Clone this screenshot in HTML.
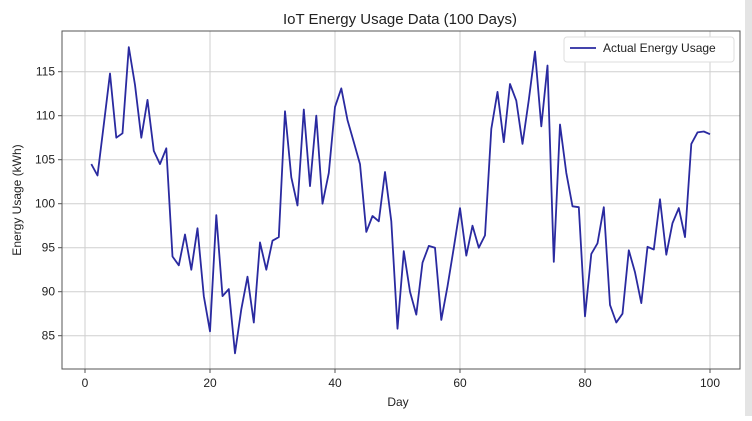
<!DOCTYPE html>
<html><head><meta charset="utf-8"><style>
body{margin:0;background:#fff;width:752px;height:416px;overflow:hidden;font-family:"Liberation Sans","DejaVu Sans",sans-serif;}
</style></head><body>
<svg id="chart" width="752" height="416" xmlns="http://www.w3.org/2000/svg">
<rect x="0" y="0" width="752" height="416" fill="#fff"/>
<rect x="745" y="0" width="7" height="416" fill="#e4e4e4"/>
<text x="400" y="24" text-anchor="middle" font-size="15" fill="#222">IoT Energy Usage Data (100 Days)</text>
<text transform="translate(21,200) rotate(-90)" text-anchor="middle" font-size="12" fill="#222">Energy Usage (kWh)</text>
<text x="398" y="406" text-anchor="middle" font-size="12" fill="#222">Day</text>
<g id="grid"></g><g id="ticks"></g>
<path id="line" fill="none" stroke="#2a2aa0" stroke-width="1.8" stroke-linejoin="round"/>
<rect x="62" y="31" width="678" height="338" fill="none" stroke="#555" stroke-width="1"/>
<g>
<rect x="564" y="37" width="170" height="25" rx="3" fill="#fff" stroke="#ddd"/>
<line x1="570" y1="48" x2="596" y2="48" stroke="#2a2aa0" stroke-width="1.8"/>
<text x="603" y="52" font-size="12" fill="#222">Actual Energy Usage</text>
</g>
</svg>
<script>
const days=[];for(let i=1;i<=100;i++)days.push(i);
const usage=[104.5,103.2,109,114.8,107.5,108,117.8,113.5,107.5,111.8,106,104.5,106.3,94,93,96.5,92.5,97.2,89.5,85.5,98.7,89.5,90.3,83,88,91.7,86.5,95.6,92.5,95.8,96.2,110.5,103,99.8,110.7,102,110,100,103.5,111,113.1,109.5,107,104.5,96.8,98.6,98,103.6,98,85.8,94.6,90,87.4,93.3,95.2,95,86.8,90.6,95,99.5,94.1,97.5,95,96.4,108.5,112.7,107,113.6,111.7,106.8,111.8,117.3,108.8,115.7,93.4,109,103.5,99.7,99.6,87.2,94.3,95.5,99.6,88.5,86.5,87.5,94.7,92.2,88.7,95.1,94.8,100.5,94.2,97.8,99.5,96.2,106.8,108.1,108.2,107.9];
const xTicks=[0,20,40,60,80,100];
const yTicks=[85,90,95,100,105,110,115];
const X=v=>85+v*6.25, Y=v=>71.7+(115-v)*8.8;
const NS="http://www.w3.org/2000/svg";
const grid=document.getElementById('grid'),ticks=document.getElementById('ticks');
function mk(tag,attrs,parent){const e=document.createElementNS(NS,tag);for(const k in attrs)e.setAttribute(k,attrs[k]);parent.appendChild(e);return e;}
xTicks.forEach(t=>{
 const l=mk('line',{x1:X(t),x2:X(t),y1:31,y2:369,stroke:'#cfcfcf','stroke-width':1},grid);
 
 
 mk('line',{x1:X(t),x2:X(t),y1:369,y2:373,stroke:'#555'},ticks);
 const tx=mk('text',{x:X(t),y:387,'text-anchor':'middle','font-size':12,fill:'#222'},ticks);
 tx.textContent=t;
 
 
});
yTicks.forEach(t=>{
 const l=mk('line',{x1:62,x2:740,y1:Y(t),y2:Y(t),stroke:'#cfcfcf','stroke-width':1},grid);
 
 
 mk('line',{x1:58,x2:62,y1:Y(t),y2:Y(t),stroke:'#555'},ticks);
 const tx=mk('text',{x:55,y:Y(t)+4,'text-anchor':'end','font-size':12,fill:'#222'},ticks);
 tx.textContent=t;
 
 
});
document.getElementById('line').setAttribute('d',usage.map((v,i)=>(i?'L':'M')+X(days[i]).toFixed(1)+','+Y(v).toFixed(1)).join(''));
</script>
</body></html>
